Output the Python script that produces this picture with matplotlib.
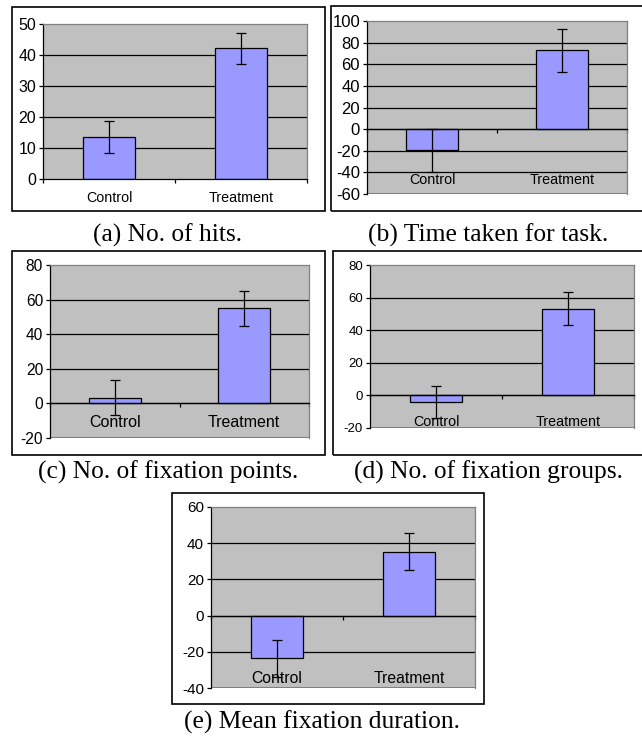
import numpy as np
import matplotlib
matplotlib.use('Agg')
import matplotlib.pyplot as plt
from matplotlib.patches import Rectangle

plt.rcParams['font.family'] = 'Liberation Sans'
plt.rcParams['axes.unicode_minus'] = False

# data
categories = ['Control', 'Treatment']
captions = ['(a) No. of hits.', '(b) Time taken for task.',
            '(c) No. of fixation points.', '(d) No. of fixation groups.',
            '(e) Mean fixation duration.']
means = [[13.5, 42.2], [-19.5, 73.0], [3.3, 55.0], [-4.0, 53.2], [-23.7, 35.4]]
errors = [[5.2, 5.0], [20.0, 20.0], [10.2, 10.0], [10.0, 10.0], [10.0, 10.0]]
y_ticks = [np.arange(0, 51, 10), np.arange(-60, 101, 20), np.arange(-20, 81, 20),
           np.arange(-20, 81, 20), np.arange(-40, 61, 20)]

# layout in pixels (left, top, right, bottom)
W, H = 642, 737
plot_boxes = [(43, 24, 307, 179), (367, 21, 627, 194), (50, 265, 309, 438),
              (370, 265, 634, 428), (211, 507, 475, 688)]
frames = [(12, 7, 325, 211), (331, 6, 648, 211), (12, 251, 325, 455),
          (333, 251, 648, 455), (172, 493, 484, 704)]
caption_pos = [(168, 235), (488, 235), (168, 472), (488, 472), (322, 722)]
label_y = [-0.123, 0.081, 0.087, 0.037, 0.055]
tick_fs = [11.5, 12, 11.2, 9.5, 11]
cat_fs = [10.3, 10.3, 11.5, 10.3, 11.3]


def fig_rect(l, t, r, b):
    return [l / W, 1 - b / H, (r - l) / W, (b - t) / H]


fig = plt.figure(figsize=(W / 100, H / 100), dpi=100)

for i in range(5):
    ax = fig.add_axes(fig_rect(*plot_boxes[i]))
    ticks = y_ticks[i]
    x = np.arange(len(categories))
    ax.set_facecolor('#C0C0C0')
    for t in ticks[1:-1]:
        ax.axhline(t, color='black', lw=0.9, zorder=1)
    ax.bar(x, means[i], width=0.4, color='#9999FF', edgecolor='black',
           linewidth=0.9, zorder=3)
    ax.errorbar(x, means[i], yerr=errors[i], fmt='none', ecolor='black',
                elinewidth=0.9, capsize=3.3, capthick=0.9, zorder=4)
    ax.set_xlim(-0.5, 1.5)
    ax.set_ylim(ticks[0], ticks[-1])
    ax.set_yticks(ticks)
    ax.set_yticklabels([str(t) for t in ticks])
    ax.set_xticks([-0.5, 0.5, 1.5])
    ax.set_xticklabels([])
    ax.tick_params(axis='y', direction='out', length=3, width=0.9, pad=2,
                   labelsize=tick_fs[i])
    ax.tick_params(axis='x', direction='out', length=3, width=0.9)
    for s in ['top', 'right']:
        ax.spines[s].set_color('#808080')
        ax.spines[s].set_linewidth(0.9)
    ax.spines['left'].set_linewidth(0.9)
    ax.spines['bottom'].set_position(('data', 0))
    ax.spines['bottom'].set_linewidth(0.9)
    ax.spines['bottom'].set_zorder(5)
    if ticks[0] != 0:
        ax.axhline(ticks[0], color='#808080', lw=1.5, zorder=1)
    for j, c in enumerate(categories):
        ax.text(x[j], label_y[i], c, transform=ax.get_xaxis_transform(),
                ha='center', va='center', fontsize=cat_fs[i], zorder=6,
                clip_on=False)

    l, t, r, b = frames[i]
    fig.add_artist(Rectangle((l / W, 1 - b / H), (r - l) / W, (b - t) / H,
                             transform=fig.transFigure, fill=False,
                             edgecolor='black', linewidth=1.2))
    cx, cy = caption_pos[i]
    fig.text(cx / W, 1 - cy / H, captions[i], ha='center', va='center',
             fontsize=18.4, family='Liberation Serif')

fig.savefig('out.png', dpi=100)
